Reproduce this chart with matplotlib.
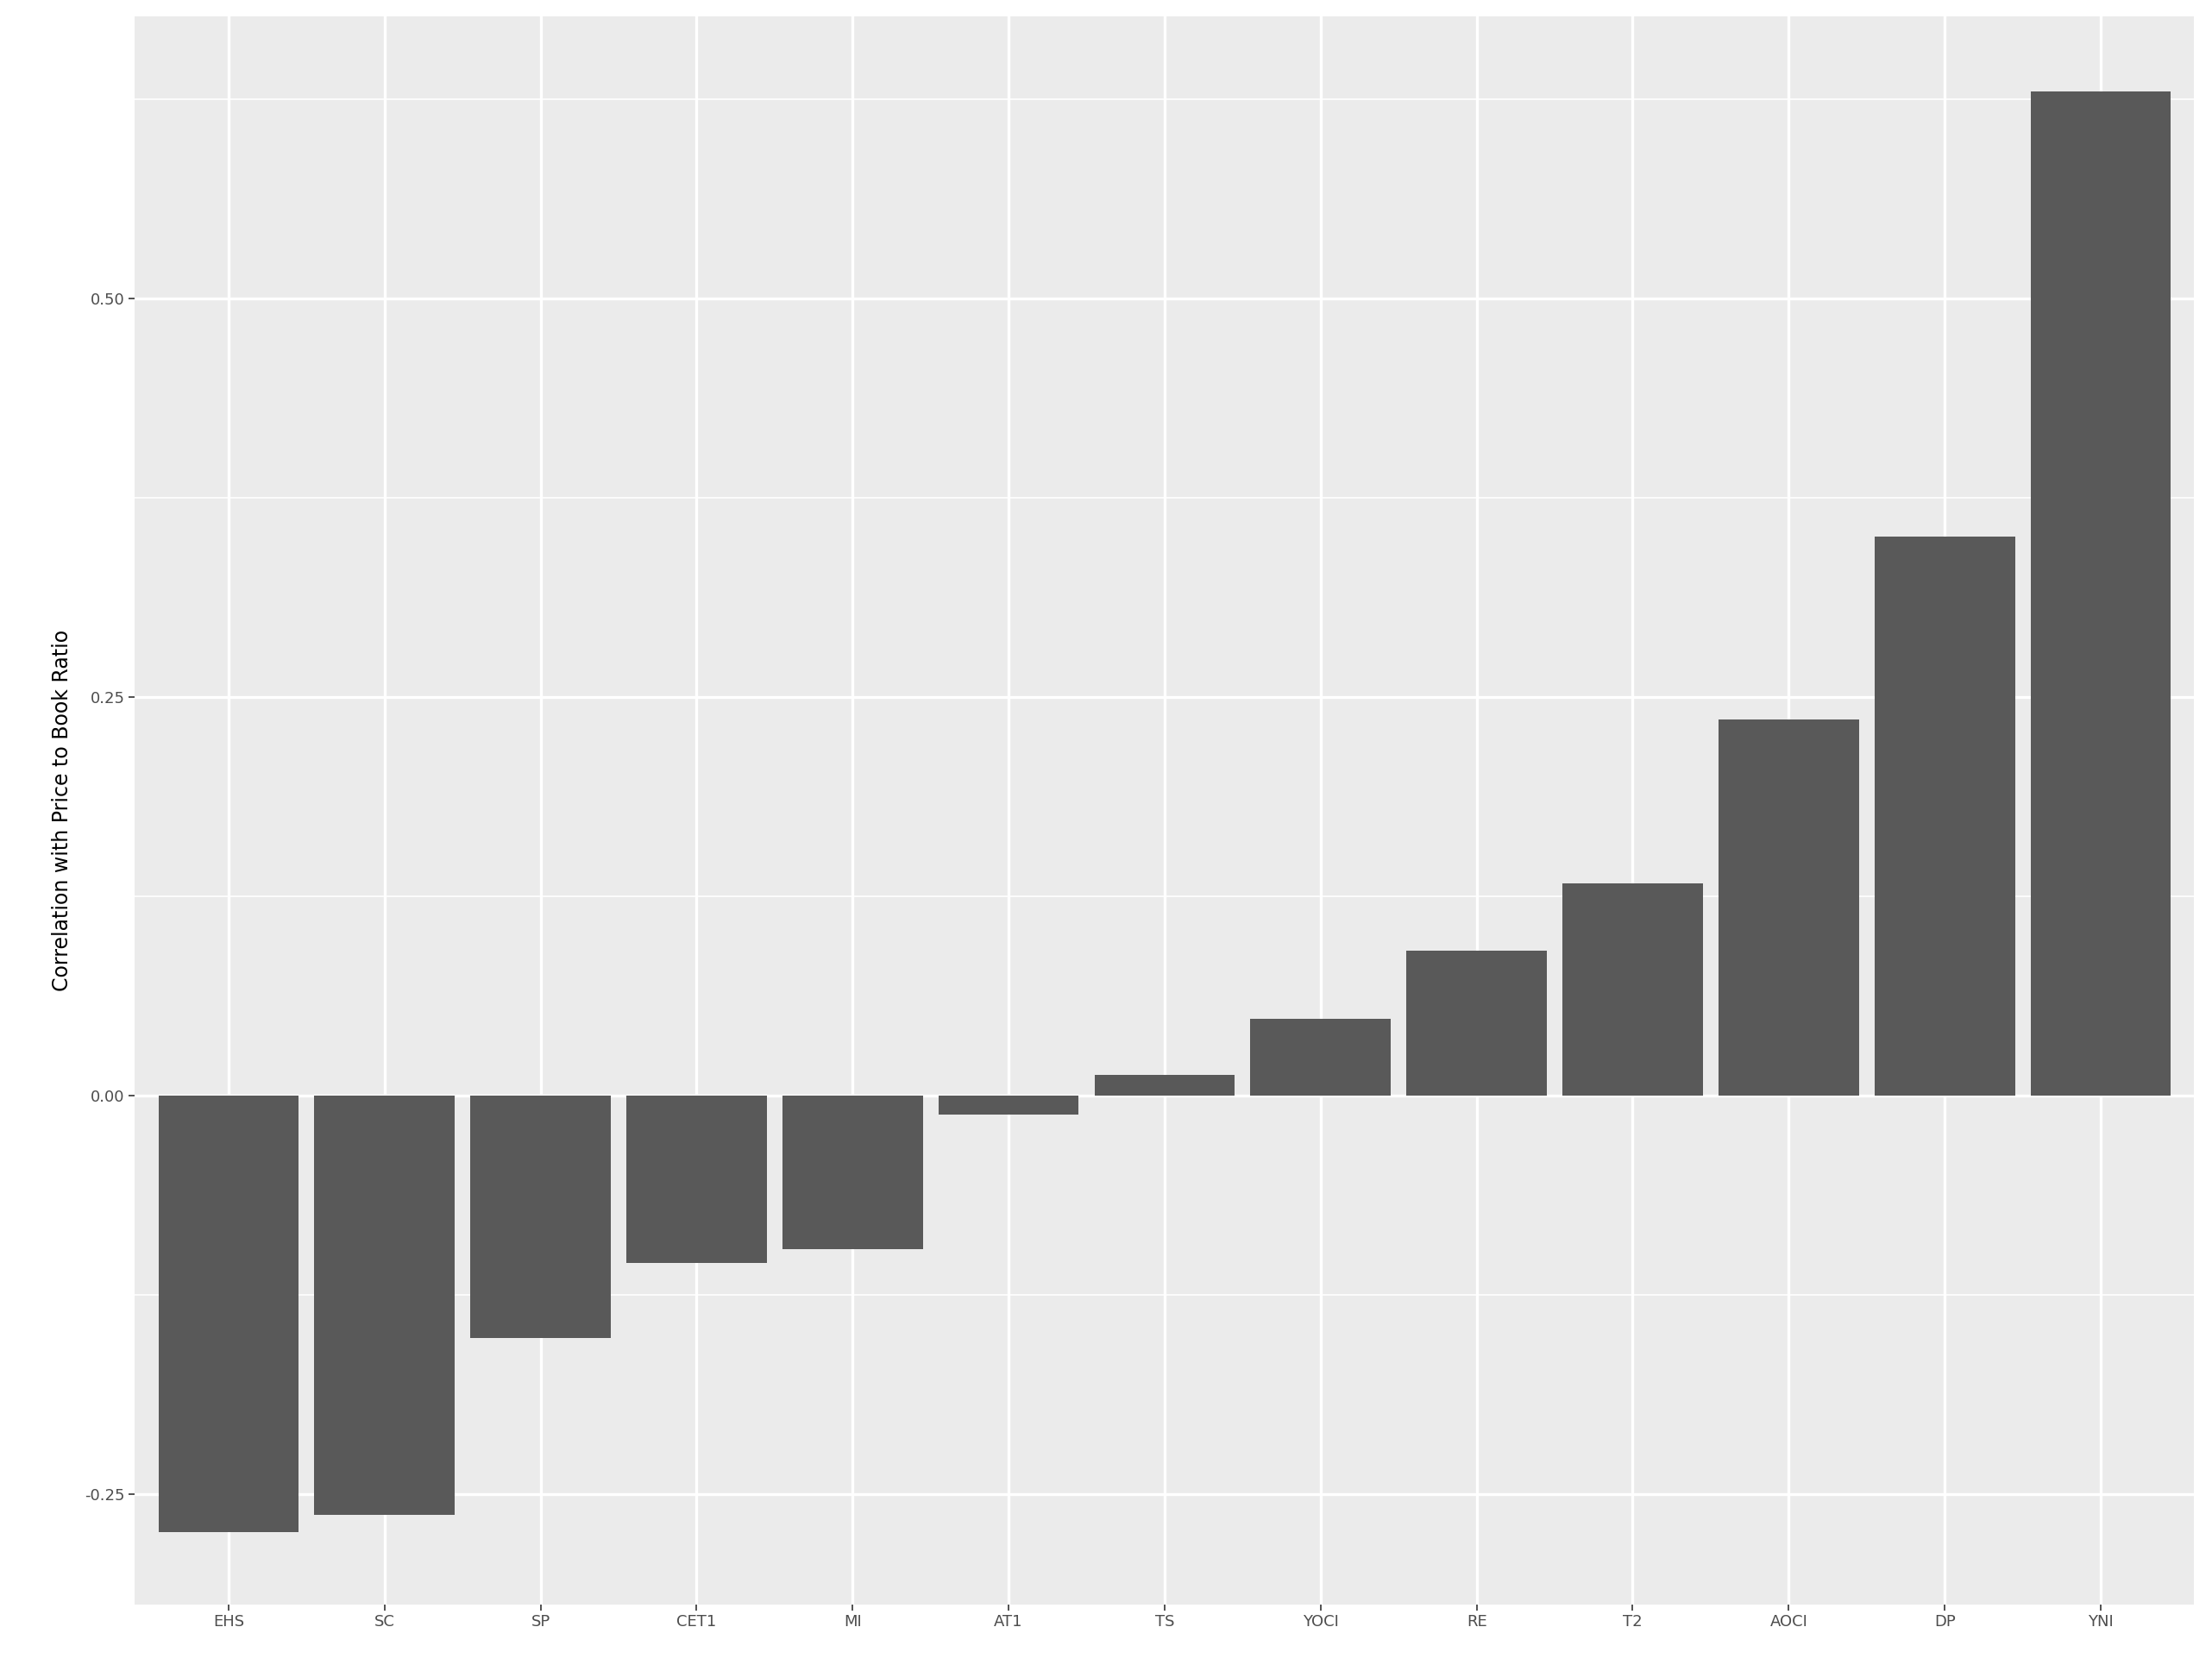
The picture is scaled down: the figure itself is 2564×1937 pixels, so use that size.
import matplotlib
matplotlib.use("Agg")
import matplotlib.pyplot as plt
import numpy as np

categories = ["EHS", "SC", "SP", "CET1", "MI", "AT1", "TS", "YOCI", "RE", "T2", "AOCI", "DP", "YNI"]
values = [-0.274, -0.263, -0.152, -0.105, -0.096, -0.012, 0.013, 0.048, 0.091, 0.133, 0.236, 0.351, 0.630]
yticks = [-0.25, 0.0, 0.25, 0.50]
ytick_labels = ["-0.25", "0.00", "0.25", "0.50"]

fig = plt.figure(figsize=(25.64, 19.37), dpi=100)
ax = fig.add_axes([0.061, 0.040, 0.931, 0.950])
ax.set_facecolor("#EBEBEB")
x = np.arange(len(categories))
ax.set_xlim(-0.6, len(categories) - 0.4)
ax.set_ylim(-0.319, 0.677)
for m in [-0.125, 0.125, 0.375, 0.625]:
    ax.axhline(m, color="white", lw=1.2, zorder=0)
for t in yticks:
    ax.axhline(t, color="white", lw=2.4, zorder=0)
for xi in x:
    ax.axvline(xi, color="white", lw=2.4, zorder=0)
ax.bar(x, values, width=0.9, color="#595959", zorder=2)
ax.set_xticks(x)
ax.set_xticklabels(categories)
ax.set_yticks(yticks)
ax.set_yticklabels(ytick_labels)
ax.tick_params(axis="both", colors="#333333", labelsize=13, length=5, width=1.2, labelcolor="#4D4D4D")
for s in ax.spines.values():
    s.set_visible(False)
ax.set_ylabel("Correlation with Price to Book Ratio", fontsize=17, labelpad=10)
fig.savefig("out.png", dpi=100, facecolor="white")
